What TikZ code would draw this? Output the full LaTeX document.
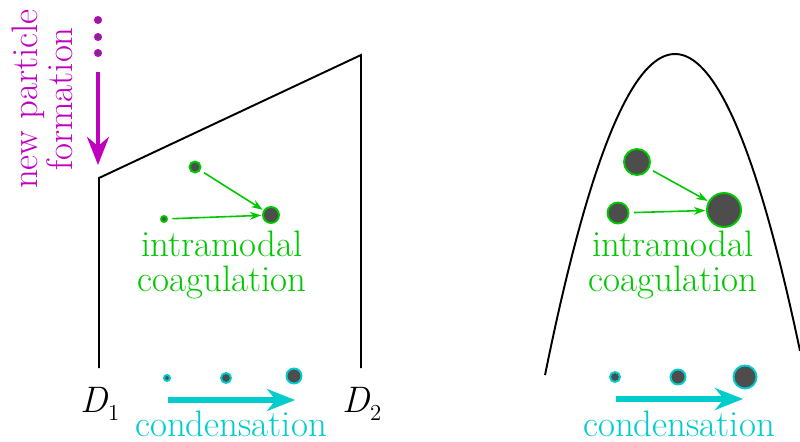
\documentclass[tikz,border=0pt]{standalone}
\usepackage{fontspec}
\usepackage{xcolor}
\definecolor{mypurple}{RGB}{191,0,191}
\definecolor{mygreen}{RGB}{0,200,0}
\definecolor{mycyan}{RGB}{0,204,204}
\definecolor{mygray}{RGB}{77,77,77}
\usetikzlibrary{arrows.meta}
\newcommand{\diam}[1]{{\itshape D}\raisebox{-0.22em}{\fontsize{13}{13}\selectfont #1}}

\begin{document}
\begin{tikzpicture}[x=0.02cm, y=-0.02cm,
    particle/.style={circle, fill=mygray, line width=1.1pt, inner sep=0pt, outer sep=0pt, minimum size={(2*#1-2)*0.02cm}},
    gpart/.style={particle=#1, draw=mygreen},
    cpart/.style={particle=#1, draw=mycyan},
    ppart/.style={particle=#1, draw=mypurple},
    txt/.style={inner sep=0pt, font=\fontsize{21}{20}\selectfont, align=center},
    garrow/.style={mygreen, line width=0.9pt, -{Stealth[length=6.5pt, width=4.5pt]}, shorten <=3pt, shorten >=1pt},
    carrow/.style={mycyan, line width=3pt, -{Stealth[length=16pt, width=12.5pt]}},
    parrow/.style={mypurple, line width=2.3pt, -{Stealth[length=16pt, width=12.5pt]}}]
      \useasboundingbox (0,0) rectangle (800,442);

      % left: mode between D1 and D2
      \coordinate (bl) at (99,368);
      \coordinate (tl) at (99,178);
      \coordinate (tr) at (361,55);
      \coordinate (br) at (361,368);
      \draw[line width=1.1pt] (bl) -- (tl) -- (tr) -- (br);
      \node[anchor=base, inner sep=0pt, font=\fontsize{21}{21}\selectfont] (d1) at (100,412) {\diam{1}};
      \node[anchor=base, inner sep=0pt, font=\fontsize{21}{21}\selectfont] (d2) at (362,412) {\diam{2}};

      % new particle formation
      \foreach \i/\yy in {1/20,2/37,3/53}
        \node[ppart=4] (dot\i) at (98,\yy) {};
      \coordinate (nuctop) at (98,72);
      \coordinate (nuctip) at (98,165);
      \draw[parrow] (nuctop) -- (nuctip);
      \node[txt, mypurple, rotate=90] (nuclab) at (42,99) {new particle\\formation};

      % intramodal coagulation, left
      \node[gpart=4] (gl1) at (164,219) {};
      \node[gpart=6.5] (gl2) at (195,167) {};
      \node[gpart=9] (gl3) at (271,215) {};
      \draw[garrow] (gl2) -- (gl3);
      \draw[garrow] (gl1) -- (gl3);
      \node[txt, mygreen] (coagl) at (222,265) {intramodal\\coagulation};

      % condensation, left
      \node[cpart=4] (cl1) at (167,378) {};
      \node[cpart=6] (cl2) at (226,378) {};
      \node[cpart=8.5] (cl3) at (294,376) {};
      \coordinate (clstart) at (168,400);
      \coordinate (clend) at (295,400);
      \draw[carrow] (clstart) -- (clend);
      \node[txt, mycyan, anchor=base] (condl) at (231,436) {condensation};

      % right: smooth mode
      \draw[line width=1.1pt] plot[domain=545:800, samples=80] (\x, {54+1.9*((\x-675)/10)^2});

      % intramodal coagulation, right
      \node[gpart=11.5] (gr1) at (618,213) {};
      \node[gpart=14] (gr2) at (637,162) {};
      \node[gpart=18] (gr3) at (724,210) {};
      \draw[garrow] (gr2) -- (gr3);
      \draw[garrow] (gr1) -- (gr3);
      \node[txt, mygreen] (coagr) at (673,265) {intramodal\\coagulation};

      % condensation, right
      \node[cpart=6] (cr1) at (615,377) {};
      \node[cpart=8.5] (cr2) at (678,377) {};
      \node[cpart=12.5] (cr3) at (745,377) {};
      \coordinate (crstart) at (616,399);
      \coordinate (crend) at (743,399);
      \draw[carrow] (crstart) -- (crend);
      \node[txt, mycyan, anchor=base] (condr) at (679,436) {condensation};
    \end{tikzpicture}
\end{document}
